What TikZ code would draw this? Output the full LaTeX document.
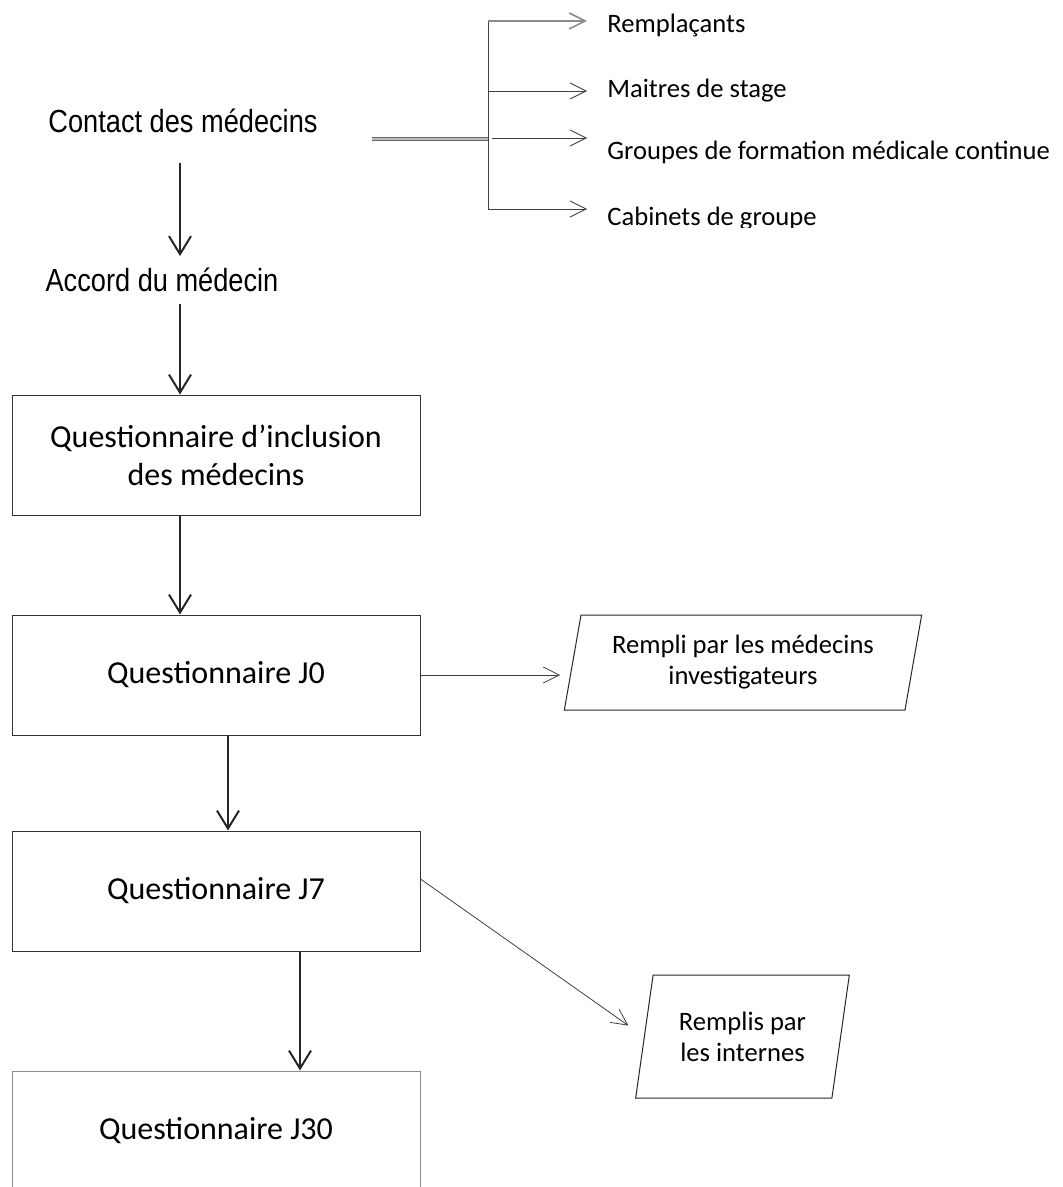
\documentclass[tikz,border=0pt]{standalone}
\usepackage{fontspec}
\setmainfont{Carlito}
\newfontfamily\arialfont[FakeStretch=0.85]{Liberation Sans}
\usepackage{tikz}
\usetikzlibrary{arrows.meta, positioning, shapes.geometric, calc}

\begin{document}
\begin{tikzpicture}[
		x=0.5pt, y=-0.5pt,
		qbox/.style={draw=black!80, line width=0.5pt, minimum width=204pt, minimum height=60pt, inner sep=0pt, align=center, font=\fontsize{16}{19}\selectfont},
		pgram/.style={draw=black!85, line width=0.5pt, trapezium, trapezium left angle=76, trapezium right angle=104, trapezium stretches=true, inner sep=0pt, align=center, font=\fontsize{13.3}{15.5}\selectfont},
		plain/.style={inner sep=0pt, font=\arialfont\fontsize{16}{19}\selectfont},
		small/.style={inner sep=0pt, anchor=base west, font=\fontsize{13.3}{16}\selectfont},
		arrow/.style={-{Straight Barb[length=9pt,width=11pt]}, line width=1pt, black!85},
		fine/.style={-{Straight Barb[length=8pt,width=8pt]}, line width=0.4pt, black!75},
		branch/.style={line width=0.4pt, black!75}
		]
		\useasboundingbox (0,0) rectangle (1063,1187);
		
		% Nodes
		\node[plain, anchor=base] (contact) at (183,133) {Contact des médecins};
		\node[plain, anchor=base] (accord) at (162,292) {Accord du médecin};
		
		\node[qbox] (incl) at (216,455) {Questionnaire d’inclusion\\des médecins};
		\node[qbox] (j0) at (216,675) {Questionnaire J0};
		\node[qbox] (j7) at (216,891) {Questionnaire J7};
		\node[qbox, draw=black!45] (j30) at (216,1131) {Questionnaire J30};
		
		\node[pgram, minimum width=179pt, minimum height=47.5pt] (pgA) at (743,662.5) {Rempli par les médecins\\investigateurs};
		\node[pgram, minimum width=107.5pt, minimum height=61.5pt] (pgB) at (742.5,1036.5) {Remplis par\\les internes};
		
		\node[small] (r1) at (607,33) {Remplaçants};
		\node[small] (r2) at (607,98) {Maitres de stage};
		\node[small] (r3) at (607,160) {Groupes de formation médicale continue};
		\begin{scope}
			\clip (590,195) rectangle (900,227.5);
			\node[small] (r4) at (607,226) {Cabinets de groupe};
		\end{scope}
		
		% Bracket
		\coordinate (brk) at (488,139);
		\coordinate (t1) at (587,21);
		\coordinate (t2) at (587,91);
		\coordinate (t3) at (587,138);
		\coordinate (t4) at (587,209);
		\draw[draw=black!60, double=black!25, double distance=0.6pt, line width=0.5pt] ($(contact.east |- brk)+(27pt,0)$) -- (brk);
		\draw[branch] (brk |- t1) -- (brk |- t4);
		\draw[fine, black!45, line width=0.8pt] (brk |- t1) -- (t1);
		\draw[fine] (brk |- t2) -- (t2);
		\draw[fine] ($(brk |- t3)+(2pt,0)$) -- (t3);
		\draw[fine] (brk |- t4) -- (t4);
		
		% Arrows
		\draw[arrow] ([xshift=-1.5pt,yshift=-14.5pt]contact.south) -- ([xshift=9pt,yshift=6pt]accord.north);
		\draw[arrow] ([xshift=9pt,yshift=-5.5pt]accord.south) -- ([xshift=-18pt]incl.north);
		\draw[arrow] ([xshift=-18pt]incl.south) -- ([xshift=-18pt]j0.north);
		\draw[arrow] ([xshift=6pt]j0.south) -- ([xshift=6pt]j7.north);
		\draw[arrow] ([xshift=42pt]j7.south) -- ([xshift=42pt]j30.north);
		
		\draw[fine, shorten >=6pt] (j0.east) -- (j0.east -| pgA.west);
		\draw[fine, shorten >=9.5pt] ([yshift=6pt]j7.east) -- (pgB.west);
		
	\end{tikzpicture}
\end{document}
